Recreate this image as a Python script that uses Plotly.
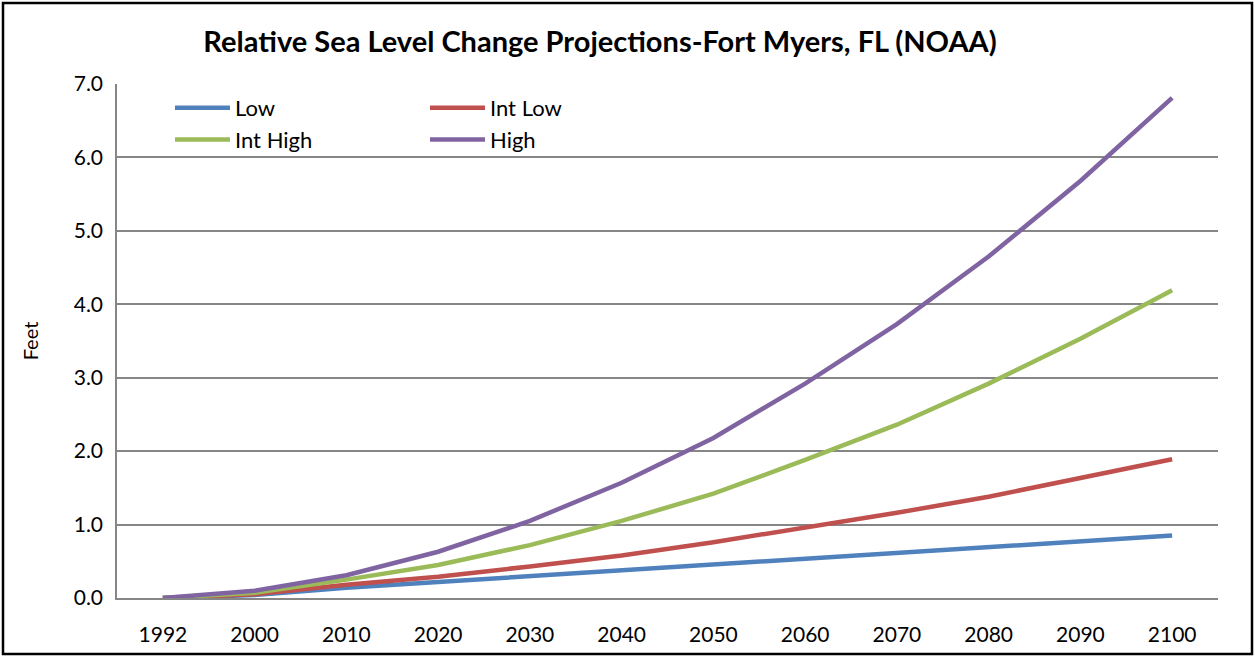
import plotly.graph_objects as go

years = ["1992", "2000", "2010", "2020", "2030", "2040", "2050", "2060", "2070", "2080", "2090", "2100"]
low = [0.0, 0.04, 0.14, 0.22, 0.30, 0.38, 0.46, 0.54, 0.61, 0.69, 0.77, 0.85]
int_low = [0.0, 0.05, 0.18, 0.29, 0.43, 0.58, 0.76, 0.96, 1.16, 1.38, 1.63, 1.89]
int_high = [0.0, 0.07, 0.25, 0.45, 0.72, 1.05, 1.42, 1.88, 2.36, 2.92, 3.53, 4.19]
high = [0.0, 0.10, 0.31, 0.63, 1.05, 1.57, 2.18, 2.92, 3.73, 4.65, 5.68, 6.81]
series = [("Low", low, "#4F81BD", "legend"), ("Int Low", int_low, "#C0504D", "legend2"),
          ("Int High", int_high, "#9BBB59", "legend"), ("High", high, "#8064A2", "legend2")]
yticks = [0, 1, 2, 3, 4, 5, 6, 7]
ytick_text = ["0.0", "1.0", "2.0", "3.0", "4.0", "5.0", "6.0", "7.0"]

W, H = 1255, 656
L, R, T, B = 117, 37, 84, 58
pw, ph = W - L - R, H - T - B

fig = go.Figure()
for name, vals, col, lg in series:
    fig.add_trace(go.Scatter(x=years, y=vals, name=name, mode="lines", legend=lg,
                             line=dict(color=col, width=4.5)))

font = "Lato, 'Open Sans', sans-serif"
leg_common = dict(orientation="v", xanchor="left", yanchor="top", bgcolor="rgba(0,0,0,0)",
                  font=dict(size=22, family=font), traceorder="normal", itemwidth=55,
                  tracegroupgap=0)
fig.update_layout(
    width=W, height=H,
    margin=dict(l=L, r=R, t=T, b=B, autoexpand=False),
    paper_bgcolor="white", plot_bgcolor="white",
    font=dict(family=font, size=20, color="black"),
    title=dict(text="<b>Relative Sea Level Change Projections-Fort Myers, FL (NOAA)</b>",
               x=600 / W, xanchor="center", xref="container",
               y=1 - 42 / H, yanchor="middle", yref="container",
               font=dict(size=29, family=font, color="black")),
    showlegend=True,
    legend=dict(x=(170 - L) / pw, y=1 - (87 - T) / ph, **leg_common),
    legend2=dict(x=(425 - L) / pw, y=1 - (87 - T) / ph, **leg_common),
    xaxis=dict(type="category", range=[-0.5, len(years) - 0.5], showgrid=False,
               showline=True, linecolor="#868686", automargin=False,
               linewidth=1.5, ticks="", ticklabelstandoff=17, tickfont=dict(size=21)),
    yaxis=dict(range=[0, 7], tickvals=yticks, ticktext=ytick_text, showgrid=True,
               gridcolor="#868686", gridwidth=1.5, showline=True, linecolor="#868686",
               linewidth=1.5, ticks="", ticklabelstandoff=8, zeroline=False,
               tickfont=dict(size=21), automargin=False,
               title=dict(text="Feet", standoff=30, font=dict(size=20))),
)

fig.add_shape(type="rect", xref="paper", yref="paper",
              x0=(3 - L) / pw, x1=(1252 - L) / pw,
              y0=-(B - 2) / ph, y1=1 + (T - 3) / ph,
              line=dict(color="black", width=2.5), fillcolor="rgba(0,0,0,0)", layer="above")

fig.write_html("out.html", config={"displayModeBar": False},
               post_script="document.body.style.margin='0px';document.body.style.overflow='hidden';")
